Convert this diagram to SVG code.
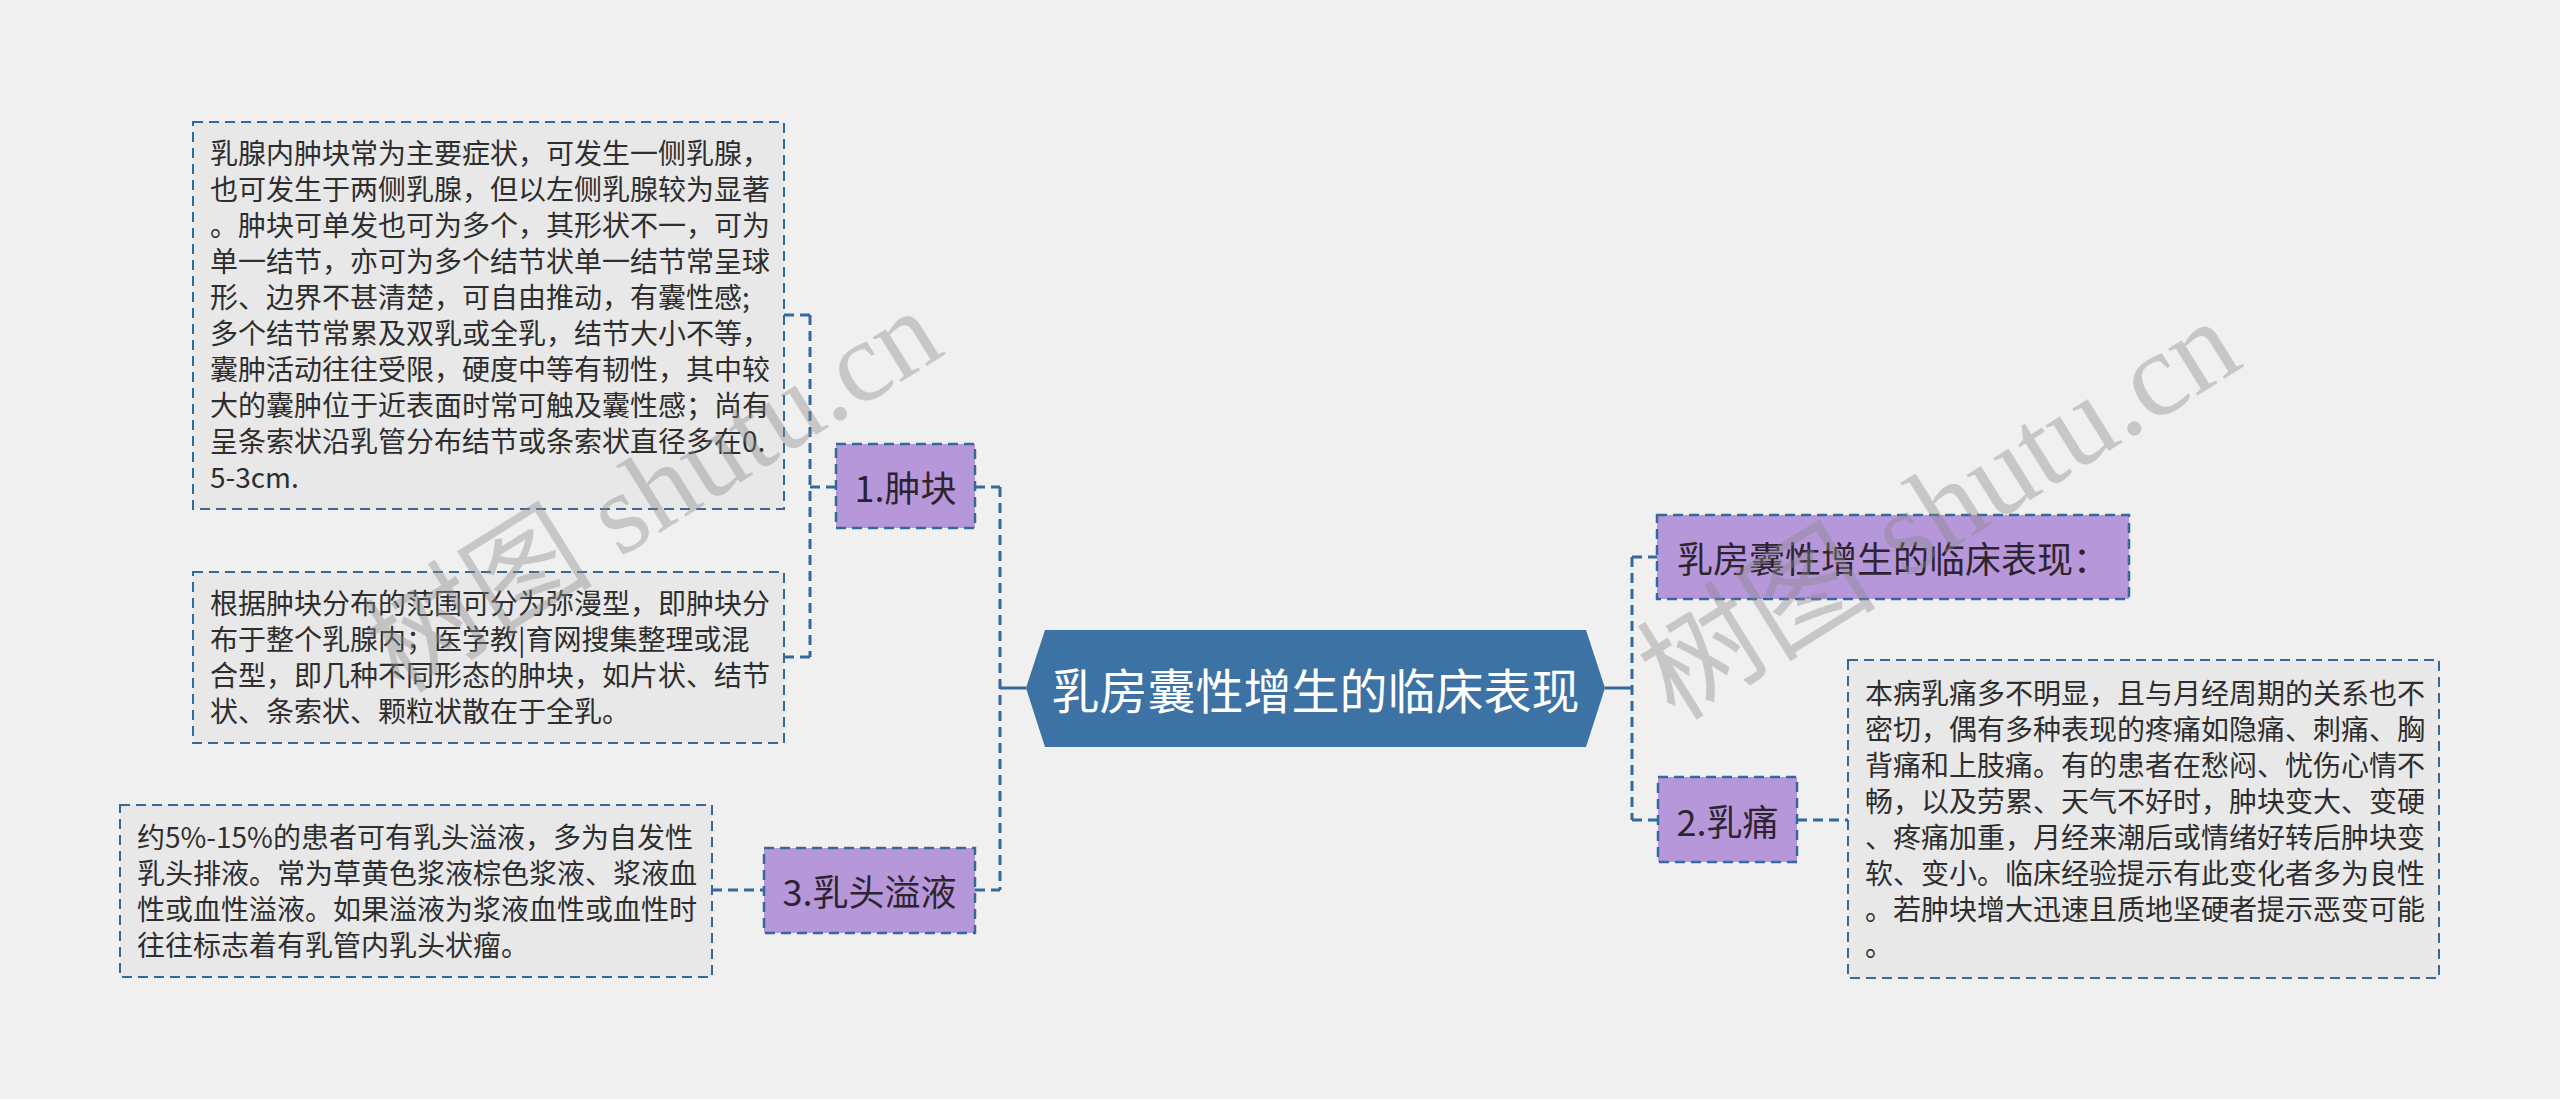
<svg xmlns="http://www.w3.org/2000/svg" width="2560" height="1099" viewBox="0 0 2560 1099">
<style>
.bg{fill:#f0f0f0}
.box{fill:#e8e8e8;stroke:#36699b;stroke-width:2;stroke-dasharray:10 6}
.sub{fill:#b697da;stroke:#36699b;stroke-width:2.5;stroke-dasharray:10 6}
.t{font-family:"Noto Sans CJK SC","Noto Sans",sans-serif;font-size:28px;fill:#2e2e2e}
.lbl{font-family:"Noto Sans CJK SC","Noto Sans",sans-serif;font-size:36px;fill:#2e2430;text-anchor:middle;dominant-baseline:central}
.main{font-family:"Noto Sans CJK SC","Noto Sans",sans-serif;font-size:48px;fill:#ffffff;text-anchor:middle;dominant-baseline:central}
.dash{fill:none;stroke:#36699b;stroke-width:3;stroke-dasharray:10 6}
.solid{fill:none;stroke:#36699b;stroke-width:3}
.wm{font-family:"Liberation Serif","Noto Sans CJK SC",serif;font-size:120px;fill:#8a8a8a;fill-opacity:0.4}
</style>
<rect class="bg" x="0" y="0" width="2560" height="1099"/>

<g id="connectors">
  <path class="solid" d="M1000 688 H1026"/>
  <path class="dash" d="M1000 487 V890"/>
  <path class="dash" d="M975 487 H1000"/>
  <path class="dash" d="M975 890 H1000"/>
  <path class="dash" d="M810 315 V657"/>
  <path class="dash" d="M784 315 H810"/>
  <path class="dash" d="M784 657 H810"/>
  <path class="dash" d="M810 487 H836"/>
  <path class="dash" d="M712 890 H764"/>
  <path class="solid" d="M1605 688 H1632"/>
  <path class="dash" d="M1632 557 V820"/>
  <path class="dash" d="M1632 557 H1657"/>
  <path class="dash" d="M1632 820 H1658"/>
  <path class="dash" d="M1797 820 H1848"/>
</g>

<g id="center">
  <polygon points="1045,630 1586,630 1605,688 1586,747 1045,747 1026,688" fill="#3d72a4"/>
  <text class="main" x="1315.5" y="688">乳房囊性增生的临床表现</text>
</g>

<g id="n1">
  <rect class="sub" x="836" y="444" width="139" height="84"/>
  <text class="lbl" x="905.5" y="486">1.肿块</text>
</g>

<g id="n1a">
  <rect class="box" x="193" y="122" width="591" height="387"/>
  <text class="t" x="210" y="164">乳腺内肿块常为主要症状，可发生一侧乳腺，</text>
  <text class="t" x="210" y="200">也可发生于两侧乳腺，但以左侧乳腺较为显著</text>
  <text class="t" x="210" y="236">。肿块可单发也可为多个，其形状不一，可为</text>
  <text class="t" x="210" y="272">单一结节，亦可为多个结节状单一结节常呈球</text>
  <text class="t" x="210" y="308">形、边界不甚清楚，可自由推动，有囊性感;</text>
  <text class="t" x="210" y="344">多个结节常累及双乳或全乳，结节大小不等，</text>
  <text class="t" x="210" y="380">囊肿活动往往受限，硬度中等有韧性，其中较</text>
  <text class="t" x="210" y="416">大的囊肿位于近表面时常可触及囊性感；尚有</text>
  <text class="t" x="210" y="452">呈条索状沿乳管分布结节或条索状直径多在0.</text>
  <text class="t" x="210" y="488">5-3cm.</text>
</g>

<g id="n1b">
  <rect class="box" x="193" y="572" width="591" height="171"/>
  <text class="t" x="210" y="614">根据肿块分布的范围可分为弥漫型，即肿块分</text>
  <text class="t" x="210" y="650">布于整个乳腺内；医学教|育网搜集整理或混</text>
  <text class="t" x="210" y="686">合型，即几种不同形态的肿块，如片状、结节</text>
  <text class="t" x="210" y="722">状、条索状、颗粒状散在于全乳。</text>
</g>

<g id="n3">
  <rect class="sub" x="764" y="848" width="211" height="85"/>
  <text class="lbl" x="869.5" y="890">3.乳头溢液</text>
</g>

<g id="n3a">
  <rect class="box" x="120" y="805" width="592" height="172"/>
  <text class="t" x="137" y="848">约5%-15%的患者可有乳头溢液，多为自发性</text>
  <text class="t" x="137" y="884">乳头排液。常为草黄色浆液棕色浆液、浆液血</text>
  <text class="t" x="137" y="920">性或血性溢液。如果溢液为浆液血性或血性时</text>
  <text class="t" x="137" y="956">往往标志着有乳管内乳头状瘤。</text>
</g>

<g id="r1">
  <rect class="sub" x="1657" y="515" width="472" height="84"/>
  <text class="lbl" x="1893" y="557">乳房囊性增生的临床表现：</text>
</g>

<g id="n2">
  <rect class="sub" x="1658" y="777" width="139" height="85"/>
  <text class="lbl" x="1727.5" y="819.5">2.乳痛</text>
</g>

<g id="n2a">
  <rect class="box" x="1848" y="660" width="591" height="318"/>
  <text class="t" x="1865" y="704">本病乳痛多不明显，且与月经周期的关系也不</text>
  <text class="t" x="1865" y="740">密切，偶有多种表现的疼痛如隐痛、刺痛、胸</text>
  <text class="t" x="1865" y="776">背痛和上肢痛。有的患者在愁闷、忧伤心情不</text>
  <text class="t" x="1865" y="812">畅，以及劳累、天气不好时，肿块变大、变硬</text>
  <text class="t" x="1865" y="848">、疼痛加重，月经来潮后或情绪好转后肿块变</text>
  <text class="t" x="1865" y="884">软、变小。临床经验提示有此变化者多为良性</text>
  <text class="t" x="1865" y="920">。若肿块增大迅速且质地坚硬者提示恶变可能</text>
  <text class="t" x="1865" y="956">。</text>
</g>

<g id="watermark">
  <text class="wm" transform="translate(400,695) rotate(-32)" style="font-size:115px">树图 shutu.cn</text>
  <text class="wm" transform="translate(1675,722) rotate(-32)">树图 shutu.cn</text>
</g>
</svg>
